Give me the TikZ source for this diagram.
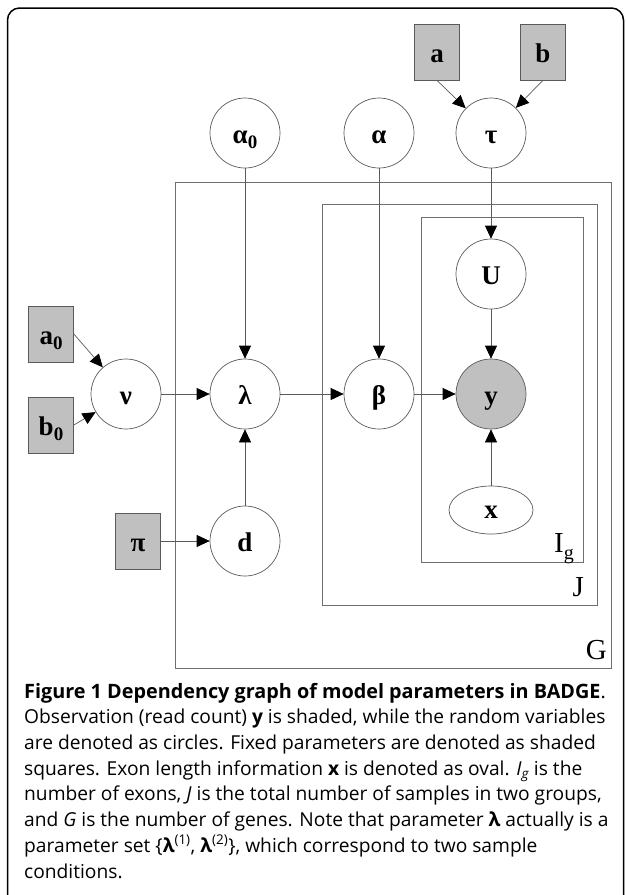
\documentclass[tikz,border=0pt]{standalone}
\usepackage{fontspec}
\setmainfont{Liberation Serif}
\newfontfamily\capfont{Open Sans}
\usetikzlibrary{arrows.meta,shapes.geometric}
\definecolor{boxgray}{RGB}{192,192,192}
\definecolor{linegray}{RGB}{90,90,90}
\definecolor{plategray}{RGB}{110,110,110}
\newcommand{\labf}{\fontsize{27}{27}\selectfont\bfseries}
\newcommand{\lsub}[1]{\raisebox{-0.22em}{\fontsize{19}{19}\selectfont #1}}
\newcommand{\psub}[1]{\raisebox{-0.25em}{\fontsize{20}{20}\selectfont #1}}
\tikzset{
  rv/.style={circle, draw=linegray, line width=0.7pt, minimum size=70pt, inner sep=0pt, font=\labf, text height=20pt, text depth=0pt},
  obsnode/.style={rv, fill=boxgray},
  fixednode/.style={rectangle, draw=linegray, line width=0.7pt, fill=boxgray, minimum width=45pt, minimum height=56pt, inner sep=0pt, font=\labf, text height=20pt, text depth=0pt},
  ovalnode/.style={ellipse, draw=linegray, line width=0.7pt, minimum width=84pt, minimum height=48pt, inner sep=0pt, font=\labf, text height=17pt, text depth=0pt},
  plate/.style={draw=plategray, line width=0.9pt},
  platelabel/.style={font=\fontsize{29}{29}\selectfont, inner sep=0pt},
  edge/.style={draw=linegray, line width=0.7pt, -{Triangle[length=13pt,width=12pt,color=black]}},
}
\begin{document}
\begin{tikzpicture}[x=1pt,y=-1pt]
\useasboundingbox (0,0) rectangle (625,895);
\clip (0,0) rectangle (625,895);
% outer frame
\draw[line width=1.5pt, rounded corners=12pt] (7.5,8) rectangle (623.5,920);
% plates
\draw[plate] (175,182) rectangle (611,668);
\draw[plate] (322,204) rectangle (597,605);
\draw[plate] (421,217) rectangle (583,562);
\node[platelabel, anchor=base east] (lG) at (607,659) {G};
\node[platelabel, anchor=base east] (lJ) at (584,596) {J};
\node[platelabel, anchor=base east] (lI) at (574,552) {I\psub{g}};
% fixed parameters
\node[fixednode] (pa) at (437,52) {a};
\node[fixednode] (pb) at (543,52) {b};
\node[fixednode] (a0) at (51,334) {a\lsub{0}};
\node[fixednode] (b0) at (51,425) {b\lsub{0}};
\node[fixednode] (pi) at (138,541) {π};
% random variables
\node[rv] (alpha0) at (245,133) {α\lsub{0}};
\node[rv] (alpha) at (379,133) {α};
\node[rv] (tau) at (491,133) {τ};
\node[rv] (U) at (491,274) {U};
\node[rv] (nu) at (126,394) {ν};
\node[rv] (lambda) at (245,394) {λ};
\node[rv] (beta) at (379,394) {β};
\node[obsnode] (y) at (491,394) {y};
\node[rv] (d) at (245,541) {d};
\node[ovalnode] (x) at (491,510) {x};
% edges
\draw[edge] (pa.south) -- (tau);
\draw[edge] (pb.south) -- (tau);
\draw[edge] (alpha0) -- (lambda);
\draw[edge] (alpha) -- (beta);
\draw[edge] (tau) -- (U);
\draw[edge] (U) -- (y);
\draw[edge] (a0.east) -- (nu);
\draw[edge] (b0.east) -- (nu);
\draw[edge] (nu) -- (lambda);
\draw[edge] (lambda) -- (beta);
\draw[edge] (beta) -- (y);
\draw[edge] (pi) -- (d);
\draw[edge] (d) -- (lambda);
\draw[edge] (x) -- (y);
% caption
\node[anchor=base west, inner sep=0pt, align=left, font=\capfont\fontsize{19.2}{25.7}\selectfont] (caption) at (24,878) {%
{\fontsize{19.8}{25.7}\selectfont\textbf{Figure 1 Dependency graph of model parameters in BADGE}.}\\
Observation (read count) \textbf{y} is shaded, while the random variables\\
are denoted as circles. Fixed parameters are denoted as shaded\\
squares. Exon length information \textbf{x} is denoted as oval. \textit{I\textsubscript{g}} is the\\
number of exons, \textit{J} is the total number of samples in two groups,\\
and \textit{G} is the number of genes. Note that parameter \textbf{λ} actually is a\\
parameter set \{\textbf{λ}\textsuperscript{(1)}, \textbf{λ}\textsuperscript{(2)}\}, which correspond to two sample\\
conditions.};
\end{tikzpicture}
\end{document}
